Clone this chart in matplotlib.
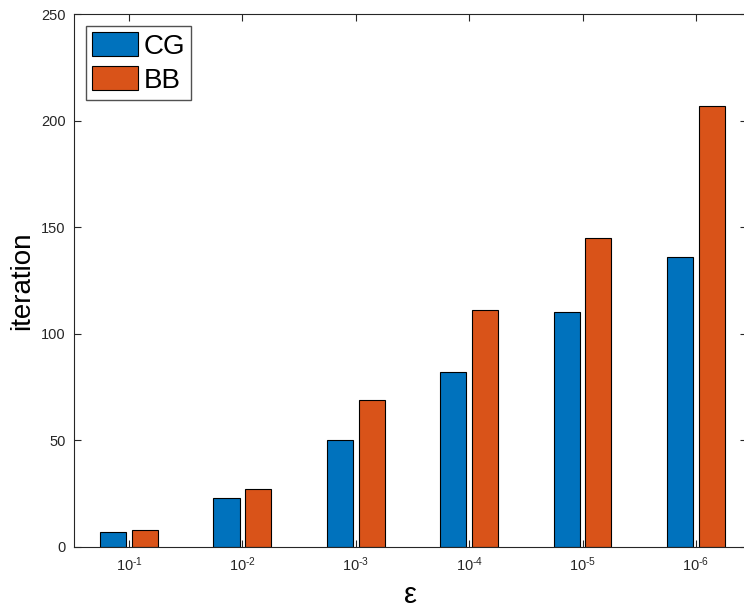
import numpy as np
import matplotlib as mpl
import matplotlib.pyplot as plt

mpl.rcParams['font.family'] = 'Liberation Sans'
mpl.rcParams['mathtext.fontset'] = 'custom'
mpl.rcParams['mathtext.rm'] = 'Liberation Sans'
mpl.rcParams['mathtext.it'] = 'Liberation Sans:italic'
mpl.rcParams['axes.unicode_minus'] = False

###############################################################################
# Data

eps_labels = ['$\\mathregular{10^{\\text{-}1}}$', '$\\mathregular{10^{\\text{-}2}}$',
              '$\\mathregular{10^{\\text{-}3}}$', '$\\mathregular{10^{\\text{-}4}}$',
              '$\\mathregular{10^{\\text{-}5}}$', '$\\mathregular{10^{\\text{-}6}}$']
cg_iter = [7, 23, 50, 82, 110, 136]
bb_iter = [8, 27, 69, 111, 145, 207]

###############################################################################
# Plot

blue = '#0072BD'
orange = '#D95319'
dark = '#262626'

fig = plt.figure(figsize=(7.44, 6.08), dpi=100)
# right edge sits just past the image border, like the cropped original
ax = fig.add_axes([74/744, 61/608, 673/744, 533/608])

x = np.arange(1, len(eps_labels) + 1)
w = 0.23
off = 0.14
ax.bar(x - off, cg_iter, w, color=blue, edgecolor='black', linewidth=0.8, label='CG')
ax.bar(x + off, bb_iter, w, color=orange, edgecolor='black', linewidth=0.8, label='BB')

ax.set_xlim(0.515, 6.45)
ax.set_ylim(0, 250)
ax.set_xticks(x)
ax.set_xticklabels(eps_labels)
ax.set_yticks(np.arange(0, 251, 50))

for s in ax.spines.values():
    s.set_color(dark)
    s.set_linewidth(0.8)
ax.tick_params(direction='in', top=True, right=True, length=5, width=0.8,
               colors=dark, labelsize=10.5, pad=6)

ax.set_ylabel('iteration', fontsize=20, color='black', labelpad=4)
ax.set_xlabel('ε', fontsize=21, color='black', labelpad=5)

ax.legend(loc='upper left', fontsize=20, frameon=True, fancybox=False,
          edgecolor=dark, handlelength=1.65, handleheight=0.95,
          handletextpad=0.2, borderpad=0.22, labelspacing=0.22,
          bbox_to_anchor=(0.018, 0.977), borderaxespad=0.0)

fig.savefig('out.png', dpi=fig.dpi)
